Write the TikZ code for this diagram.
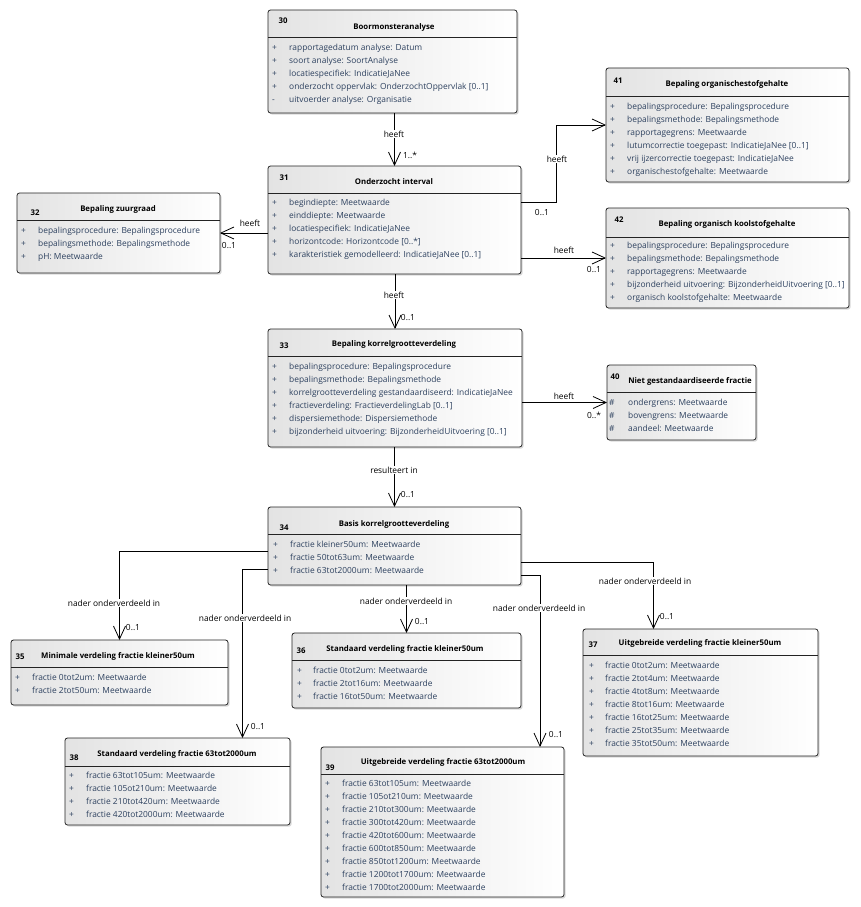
\documentclass[tikz,border=0pt]{standalone}
\usepackage{fontspec}
\setmainfont{Open Sans}
\usepackage{xcolor}
\usepackage{tikz}
\usetikzlibrary{arrows.meta,positioning,calc,shadows}

\definecolor{attrtxt}{RGB}{45,65,95}
\definecolor{boxline}{RGB}{35,35,35}

\begin{document}
\begin{tikzpicture}[x=1pt, y=-1pt,
    cls/.style={draw=boxline, line width=0.8pt, rounded corners=2.5pt, left color=black!11, right color=white, drop shadow={shadow xshift=1.6pt, shadow yshift=-1.6pt, fill=black!30}, anchor=north west, inner sep=0pt, outer sep=0pt},
    sepline/.style={draw=boxline, line width=0.8pt},
    num/.style={font=\fontsize{7.8}{9}\selectfont\bfseries, inner sep=0pt},
    ttl/.style={font=\fontsize{7.8}{9}\selectfont\bfseries, inner sep=0pt},
    attr/.style={font=\fontsize{8.4}{13}\selectfont, text=attrtxt, anchor=north west, inner sep=0pt},
    lbl/.style={font=\fontsize{8.4}{10}\selectfont, fill=white, inner sep=1pt},
    mult/.style={font=\fontsize{8.4}{10}\selectfont, inner sep=0pt},
    assoc/.style={draw=black, line width=0.8pt, -{Straight Barb[length=13pt,width=12pt]}}
]
    \useasboundingbox (0,0) rectangle (860,907);

    % classes
    \node [cls, minimum width=249pt, minimum height=103pt] (c30) at (268,10) {};
    \draw [sepline] (c30.west |- 0,37) -- (c30.east |- 0,37);
    \node [num] (n30) at (283,21) {30};
    \node [ttl] (t30) at (394,27) {Boormonsteranalyse};
    \node [attr] (a30) at (272,41.6) {\begin{tabular}{@{}p{17pt}@{}l@{}}
        + & rapportagedatum analyse: Datum\\
        + & soort analyse: SoortAnalyse\\
        + & locatiespecifiek: IndicatieJaNee\\
        + & onderzocht oppervlak: OnderzochtOppervlak [0..1]\\
        - & uitvoerder analyse: Organisatie
    \end{tabular}};

    \node [cls, minimum width=243pt, minimum height=114pt] (c41) at (606,68) {};
    \draw [sepline] (c41.west |- 0,96) -- (c41.east |- 0,96);
    \node [num] (n41) at (618,81) {41};
    \node [ttl] (t41) at (727,84) {Bepaling organischestofgehalte};
    \node [attr] (a41) at (610,100.6) {\begin{tabular}{@{}p{17pt}@{}l@{}}
        + & bepalingsprocedure: Bepalingsprocedure\\
        + & bepalingsmethode: Bepalingsmethode\\
        + & rapportagegrens: Meetwaarde\\
        + & lutumcorrectie toegepast: IndicatieJaNee [0..1]\\
        + & vrij ijzercorrectie toegepast: IndicatieJaNee\\
        + & organischestofgehalte: Meetwaarde
    \end{tabular}};

    \node [cls, minimum width=203pt, minimum height=80pt] (c32) at (17,193) {};
    \draw [sepline] (c32.west |- 0,220) -- (c32.east |- 0,220);
    \node [num] (n32) at (35,213) {32};
    \node [ttl] (t32) at (118,209) {Bepaling zuurgraad};
    \node [attr] (a32) at (21,224.6) {\begin{tabular}{@{}p{17pt}@{}l@{}}
        + & bepalingsprocedure: Bepalingsprocedure\\
        + & bepalingsmethode: Bepalingsmethode\\
        + & pH: Meetwaarde
    \end{tabular}};

    \node [cls, minimum width=253pt, minimum height=108pt] (c31) at (268,166) {};
    \draw [sepline] (c31.west |- 0,193) -- (c31.east |- 0,193);
    \node [num] (n31) at (284,178) {31};
    \node [ttl] (t31) at (394,182) {Onderzocht interval};
    \node [attr] (a31) at (272,196.6) {\begin{tabular}{@{}p{17pt}@{}l@{}}
        + & begindiepte: Meetwaarde\\
        + & einddiepte: Meetwaarde\\
        + & locatiespecifiek: IndicatieJaNee\\
        + & horizontcode: Horizontcode [0..*]\\
        + & karakteristiek gemodelleerd: IndicatieJaNee [0..1]
    \end{tabular}};

    \node [cls, minimum width=243pt, minimum height=100pt] (c42) at (606,208) {};
    \draw [sepline] (c42.west |- 0,237) -- (c42.east |- 0,237);
    \node [num] (n42) at (619,220) {42};
    \node [ttl] (t42) at (727,224) {Bepaling organisch koolstofgehalte};
    \node [attr] (a42) at (610,239.6) {\begin{tabular}{@{}p{17pt}@{}l@{}}
        + & bepalingsprocedure: Bepalingsprocedure\\
        + & bepalingsmethode: Bepalingsmethode\\
        + & rapportagegrens: Meetwaarde\\
        + & bijzonderheid uitvoering: BijzonderheidUitvoering [0..1]\\
        + & organisch koolstofgehalte: Meetwaarde
    \end{tabular}};

    \node [cls, minimum width=254pt, minimum height=118pt] (c33) at (268,329) {};
    \draw [sepline] (c33.west |- 0,356) -- (c33.east |- 0,356);
    \node [num] (n33) at (284,346) {33};
    \node [ttl] (t33) at (394,344) {Bepaling korrelgrootteverdeling};
    \node [attr] (a33) at (272,360.6) {\begin{tabular}{@{}p{17pt}@{}l@{}}
        + & bepalingsprocedure: Bepalingsprocedure\\
        + & bepalingsmethode: Bepalingsmethode\\
        + & korrelgrootteverdeling gestandaardiseerd: IndicatieJaNee\\
        + & fractieverdeling: FractieverdelingLab [0..1]\\
        + & dispersiemethode: Dispersiemethode\\
        + & bijzonderheid uitvoering: BijzonderheidUitvoering [0..1]
    \end{tabular}};

    \node [cls, minimum width=149pt, minimum height=75pt] (c40) at (607,365) {};
    \draw [sepline] (c40.west |- 0,392) -- (c40.east |- 0,392);
    \node [num] (n40) at (615,377) {40};
    \node [ttl] (t40) at (690,381) {Niet gestandaardiseerde fractie};
    \node [attr] (a40) at (609,396.6) {\begin{tabular}{@{}p{19pt}@{}l@{}}
        \# & ondergrens: Meetwaarde\\
        \# & bovengrens: Meetwaarde\\
        \# & aandeel: Meetwaarde
    \end{tabular}};

    \node [cls, minimum width=253pt, minimum height=78pt] (c34) at (268,507) {};
    \draw [sepline] (c34.west |- 0,534) -- (c34.east |- 0,534);
    \node [num] (n34) at (284,528) {34};
    \node [ttl] (t34) at (394,524) {Basis korrelgrootteverdeling};
    \node [attr] (a34) at (273,538.6) {\begin{tabular}{@{}p{17pt}@{}l@{}}
        + & fractie kleiner50um: Meetwaarde\\
        + & fractie 50tot63um: Meetwaarde\\
        + & fractie 63tot2000um: Meetwaarde
    \end{tabular}};

    \node [cls, minimum width=217pt, minimum height=65pt] (c35) at (11,640) {};
    \draw [sepline] (c35.west |- 0,667) -- (c35.east |- 0,667);
    \node [num] (n35) at (20,657) {35};
    \node [ttl] (t35) at (118,656) {Minimale verdeling fractie kleiner50um};
    \node [attr] (a35) at (15,671.6) {\begin{tabular}{@{}p{17pt}@{}l@{}}
        + & fractie 0tot2um: Meetwaarde\\
        + & fractie 2tot50um: Meetwaarde
    \end{tabular}};

    \node [cls, minimum width=229pt, minimum height=75pt] (c36) at (292,633) {};
    \draw [sepline] (c36.west |- 0,660) -- (c36.east |- 0,660);
    \node [num] (n36) at (301,651) {36};
    \node [ttl] (t36) at (405,649) {Standaard verdeling fractie kleiner50um};
    \node [attr] (a36) at (297,664.6) {\begin{tabular}{@{}p{16pt}@{}l@{}}
        + & fractie 0tot2um: Meetwaarde\\
        + & fractie 2tot16um: Meetwaarde\\
        + & fractie 16tot50um: Meetwaarde
    \end{tabular}};

    \node [cls, minimum width=235pt, minimum height=127pt] (c37) at (583,629) {};
    \draw [sepline] (c37.west |- 0,655) -- (c37.east |- 0,655);
    \node [num] (n37) at (593,645) {37};
    \node [ttl] (t37) at (700,643) {Uitgebreide verdeling fractie kleiner50um};
    \node [attr] (a37) at (589,659.6) {\begin{tabular}{@{}p{16pt}@{}l@{}}
        + & fractie 0tot2um: Meetwaarde\\
        + & fractie 2tot4um: Meetwaarde\\
        + & fractie 4tot8um: Meetwaarde\\
        + & fractie 8tot16um: Meetwaarde\\
        + & fractie 16tot25um: Meetwaarde\\
        + & fractie 25tot35um: Meetwaarde\\
        + & fractie 35tot50um: Meetwaarde
    \end{tabular}};

    \node [cls, minimum width=225pt, minimum height=87pt] (c38) at (65,738) {};
    \draw [sepline] (c38.west |- 0,766) -- (c38.east |- 0,766);
    \node [num] (n38) at (74,758) {38};
    \node [ttl] (t38) at (177,754) {Standaard verdeling fractie 63tot2000um};
    \node [attr] (a38) at (69,769.6) {\begin{tabular}{@{}p{17pt}@{}l@{}}
        + & fractie 63tot105um: Meetwaarde\\
        + & fractie 105ot210um: Meetwaarde\\
        + & fractie 210tot420um: Meetwaarde\\
        + & fractie 420tot2000um: Meetwaarde
    \end{tabular}};

    \node [cls, minimum width=243pt, minimum height=150pt] (c39) at (321,747) {};
    \draw [sepline] (c39.west |- 0,774) -- (c39.east |- 0,774);
    \node [num] (n39) at (330,768) {39};
    \node [ttl] (t39) at (443,762) {Uitgebreide verdeling fractie 63tot2000um};
    \node [attr] (a39) at (325,777.6) {\begin{tabular}{@{}p{17pt}@{}l@{}}
        + & fractie 63tot105um: Meetwaarde\\
        + & fractie 105ot210um: Meetwaarde\\
        + & fractie 210tot300um: Meetwaarde\\
        + & fractie 300tot420um: Meetwaarde\\
        + & fractie 420tot600um: Meetwaarde\\
        + & fractie 600tot850um: Meetwaarde\\
        + & fractie 850tot1200um: Meetwaarde\\
        + & fractie 1200tot1700um: Meetwaarde\\
        + & fractie 1700tot2000um: Meetwaarde
    \end{tabular}};

    % associations
    \draw [assoc] (c31.north |- c30.south) -- (c31.north);
    \draw [assoc] ([yshift=18pt]c31.east) -- ++(35,0) |- (c41.west);
    \draw [assoc] (c31.west |- c32.east) -- (c32.east);
    \draw [assoc] (c31.east |- c42.west) -- (c42.west);
    \draw [assoc] (c33.north |- c31.south) -- (c33.north);
    \draw [assoc] (c33.east |- c40.west) -- (c40.west);
    \draw [assoc] (c34.north |- c33.south) -- (c34.north);
    \draw [assoc] ([yshift=-5pt]c34.west) -| (c35.north);
    \draw [assoc] ([yshift=-23pt]c34.west) -| ([xshift=65pt]c38.north);
    \draw [assoc] (c36.north |- c34.south) -- (c36.north);
    \draw [assoc] ([yshift=-16pt]c34.east) -| ([xshift=-47pt]c37.north);
    \draw [assoc] ([yshift=-29pt]c34.east) -| ([xshift=97.5pt]c39.north);

    % association labels
    \node [lbl] (l1) at (394,134) {heeft};
    \node [mult] (m1) at (410,155) {1..*};
    \node [lbl] (l2) at (557,159) {heeft};
    \node [mult] (m2) at (542,213) {0..1};
    \node [lbl] (l3) at (250,223) {heeft};
    \node [mult] (m3) at (229,246) {0..1};
    \node [lbl] (l4) at (564,250) {heeft};
    \node [mult] (m4) at (594,270) {0..1};
    \node [lbl] (l5) at (394,295) {heeft};
    \node [mult] (m5) at (408,318) {0..1};
    \node [lbl] (l6) at (564,396) {heeft};
    \node [mult] (m6) at (594,415) {0..*};
    \node [lbl] (l7) at (394,470) {resulteert in};
    \node [mult] (m7) at (408,495) {0..1};
    \node [lbl] (l8) at (114,603) {nader onderverdeeld in};
    \node [mult] (m8) at (133,628) {0..1};
    \node [lbl] (l9) at (245,618) {nader onderverdeeld in};
    \node [mult] (m9) at (258,727) {0..1};
    \node [lbl] (l10) at (406,601) {nader onderverdeeld in};
    \node [mult] (m10) at (422,622) {0..1};
    \node [lbl] (l11) at (539,608) {nader onderverdeeld in};
    \node [mult] (m11) at (556,735) {0..1};
    \node [lbl] (l12) at (645,581) {nader onderverdeeld in};
    \node [mult] (m12) at (667,617) {0..1};
\end{tikzpicture}
\end{document}
